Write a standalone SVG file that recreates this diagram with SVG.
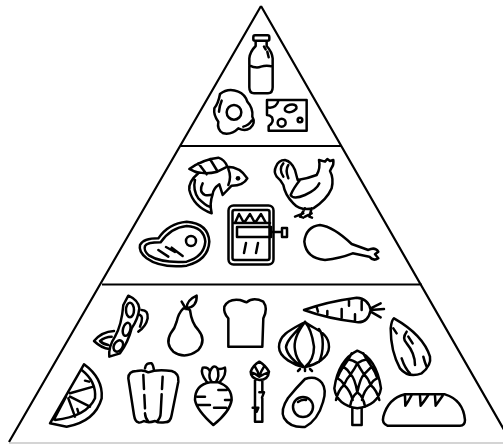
<svg xmlns="http://www.w3.org/2000/svg" width="503" height="444" viewBox="0 0 503 444">
<style>
.i{fill:none;stroke:#000;stroke-width:7.5;stroke-linecap:round;stroke-linejoin:round}
.a{fill:none;stroke:#000;stroke-width:2.5;stroke-linecap:round;stroke-linejoin:round}
.t{fill:none;stroke:#000;stroke-width:2.2}
</style>
<rect width="503" height="444" fill="#fff"/>
<g id="pyramid">
<path class="t" d="M261,6 L9,442 M261,6 L511,442 M181,146 H342 M102,284.5 H422"/>
<path d="M9,443 H503" fill="none" stroke="#aaa" stroke-width="1.2"/>
</g>
<g id="milk" transform="translate(170,0) scale(.3333)"><path class="i" d="M255,106 H293 Q298,106 298,112 V118 Q298,122 293,122 H255 Q250,122 250,118 V112 Q250,106 255,106Z M257,122 V138 Q240,155 238,175 V262 Q238,280 252,280 H294 Q308,280 308,262 V175 Q306,155 290,138 V122 M238,196 Q258,206 273,200 Q290,195 308,200 M282,140 L287,148 M292,155 L296,172"/></g>
<g id="egg" transform="translate(170,0) scale(.3333)"><path class="i" d="M150,282 Q175,262 205,275 Q225,283 232,305 Q250,325 247,350 Q258,370 240,385 Q225,395 205,385 Q185,405 160,400 Q140,390 145,365 Q130,345 133,325 Q145,310 150,282Z M155,302 Q148,318 147,335 M245,362 Q236,376 220,380"/><circle class="i" cx="192" cy="337" r="22"/></g>
<g id="cheese" transform="translate(170,0) scale(.3333)"><path class="i" d="M291,300 H410 V392 H296 V378 Q313,368 306,352 Q300,345 291,345Z M291,322 Q318,328 326,300"/><ellipse class="i" cx="362" cy="325" rx="18" ry="11" transform="rotate(-15 362 325)"/><circle class="i" cx="335" cy="368" r="12"/><circle class="i" cx="390" cy="360" r="7"/></g>
<g id="fish" transform="translate(130,145) scale(.3333)"><path class="i" d="M178,72 Q220,42 265,38 Q285,45 292,65 Q330,65 352,100 Q340,122 305,122 L278,150 L268,118 Q250,130 248,148 Q238,175 245,205 Q190,185 178,135 Q175,110 205,85Z M178,72 Q215,92 262,80 L292,65 M205,55 L230,88 M240,42 L262,78 M195,105 Q188,135 205,160 Q225,180 238,185 M218,115 Q205,140 225,150 Q238,152 248,148 M295,72 Q305,95 295,120"/><circle cx="324" cy="100" r="7"/></g>
<g id="steak" transform="translate(130,145) scale(.3333)"><path class="i" d="M30,300 Q40,280 85,280 Q115,235 170,230 Q235,235 238,290 Q235,345 170,362 Q90,370 50,340 Q25,320 30,300Z M45,303 Q50,292 92,292 Q122,248 170,243 Q222,246 226,290 Q222,335 170,350 Q95,355 58,332 Q40,318 45,303Z M85,315 L115,335 M108,306 L135,321 M125,308 L158,333"/><circle class="i" cx="183" cy="288" r="15"/></g>
<g id="can"><rect class="a" x="228.500" y="205.500" width="45" height="59" rx="5"/><rect class="a" x="232.500" y="210" width="37" height="50" rx="2"/><path class="a" d="M235,223 L239,214 L244,223 L250,214 L255,223 L261,214 L266,223 M234,223 H270 M237,227 H271 V237 H237Z M271,232 H281 M282,228 H287 V237 H282Z M246,243 L244,253 M258,243 L256,253"/></g>
<g id="chicken" transform="translate(250,145) scale(.3333)"><path class="i" d="M80,95 Q70,80 78,65 Q85,45 105,45 Q125,50 135,75 L143,105 Q175,100 200,90 Q212,70 207,45 L225,50 L232,42 L240,48 L250,45 Q252,60 245,68 L240,78 Q252,100 245,130 Q230,165 190,190 Q150,198 130,175 Q105,150 100,120 Q92,105 80,95Z M100,55 Q85,72 100,95 M115,60 Q105,75 115,100 M150,105 Q130,130 122,150 Q130,165 165,150 Q200,135 208,115 M165,190 L150,215 M185,190 L178,215 M135,215 L160,205 M150,215 L160,218 M165,215 L185,205 M178,215 L186,218"/></g>
<g id="drumstick" transform="translate(250,145) scale(.3333)"><path class="i" d="M163,290 Q168,245 210,240 Q250,245 305,297 L355,315 Q375,305 385,320 L375,328 L385,340 Q370,350 358,335 L308,325 Q270,340 225,345 Q168,340 163,290Z"/></g>
<g id="bean" transform="translate(40,285) scale(.3333)"><path class="i" d="M265,32 Q295,45 298,70 Q295,100 275,130 Q265,170 240,205 L208,215 Q205,185 225,155 Q245,120 250,60Z M305,75 Q325,75 323,100 Q318,125 295,140 M300,90 Q312,95 300,125 M222,138 Q185,140 162,168 Q185,190 208,192 M215,155 Q195,155 180,168 Q190,178 205,180"/><ellipse class="i" cx="270" cy="75" rx="12" ry="22"/><ellipse class="i" cx="260" cy="133" rx="11" ry="20" transform="rotate(15 260 133)"/><ellipse class="i" cx="235" cy="183" rx="13" ry="18" transform="rotate(30 235 183)"/></g>
<g id="pear" transform="translate(40,285) scale(.3333)"><path class="i" d="M430,70 Q415,85 410,110 Q405,130 392,145 Q375,175 400,200 Q435,225 475,195 Q500,165 475,135 Q455,115 450,75 Q440,70 430,70Z M425,50 L438,72 M440,70 Q440,45 470,32 Q472,65 440,70Z"/></g>
<g id="citrus" transform="translate(40,285) scale(.3333)"><path class="i" d="M132,238 Q190,280 185,340 Q165,410 80,425 L30,415Z M125,255 Q170,290 165,340 Q140,395 45,405 M90,325 L160,305 M90,335 L150,365 M85,340 L105,395 M78,335 L42,403 M135,287 L147,290 M112,372 L115,382"/></g>
<g id="pepper" transform="translate(40,285) scale(.3333)"><path class="i" d="M315,250 Q318,232 335,235 Q340,240 342,257 M265,280 Q265,258 290,258 Q310,253 325,262 Q350,252 395,258 Q418,265 415,290 L395,390 Q392,412 375,412 Q355,415 345,408 Q325,415 312,408 Q300,415 295,412 Q285,410 282,390Z M310,270 L312,312 M313,330 L315,370 M315,385 Q316,400 325,410 M368,275 L366,312 M365,328 L362,385 Q362,400 350,410"/></g>
<g id="bread" transform="translate(190,285) scale(.3333)"><path class="i" d="M115,185 L115,100 Q100,85 103,65 Q115,40 150,45 Q165,50 170,52 Q190,35 220,50 Q235,70 220,100 L217,185Z"/></g>
<g id="carrot" transform="translate(300,285) scale(.3333)"><path class="i" d="M12,75 Q80,50 170,38 Q205,40 212,75 Q205,112 175,112 Q80,100 12,75Z M147,45 V62 M185,48 V75 M125,72 V98 M165,88 V108 M82,78 V90 M50,66 L54,80 M212,70 L242,55 M212,75 L252,72 M212,80 L242,97"/></g>
<g id="onion"><path class="a" d="M305,322 C290,330 279,335 279,347 C279,358 295,365 303,367 M305,322 C315,330 329,332 329,347 C329,358 315,365 305,367 M305,322 C295,333 287,340 286,347 C287,355 295,362 300,365 M305,322 C295,335 294,345 295,350 C296,358 300,363 303,366 M305,322 C312,330 313,340 314,347 C314,357 310,363 305,367 M319,329 C324,335 324,352 319,362 M300,369 L298,371 M305,367 V371 M310,369 L312,371"/></g>
<g id="almond" transform="translate(300,285) scale(.3333)"><path class="i" d="M282,100 Q275,105 272,130 Q272,200 300,250 Q325,280 365,265 Q395,240 390,215 Q370,150 282,100Z M280,130 L290,145 M320,140 Q305,160 320,175 Q345,205 345,240 M325,155 L338,175 M305,220 Q315,250 330,265 M370,215 Q375,235 380,245"/></g>
<g id="turnip" transform="translate(190,285) scale(.3333)"><path class="i" d="M70,420 Q20,375 15,345 Q15,300 60,292 L85,292 Q125,305 125,345 Q120,380 70,420Z M85,315 H110 M22,335 H45 M105,345 H125 M20,360 H60 M72,368 H108 M50,290 Q30,265 38,248 Q55,245 60,260 Q70,235 82,250 Q90,255 105,248 Q110,270 90,290 M60,260 Q55,280 65,290 M82,250 Q90,275 78,290"/></g>
<g id="asparagus" transform="translate(190,285) scale(.3333)"><path class="i" d="M195,410 V285 M217,320 V285 M217,340 V410 M195,410 H217 M208,230 Q225,240 237,260 Q235,285 208,285 Q182,280 182,260 Q190,240 208,230Z M195,245 Q205,260 208,275 Q212,260 222,245 M183,262 Q195,265 208,275 Q225,265 235,262 M208,322 H222 L216,338 M188,368 H205 L200,380"/></g>
<g id="avocado"><path class="a" d="M322,383 Q316,375 305,379 Q296,388 288,398 Q280,410 284,418 Q290,428 305,427 Q318,420 323,402 Q327,390 322,383Z M298,402 Q302,399 306,400"/><circle class="a" cx="303" cy="407" r="10"/></g>
<g id="artichoke" transform="translate(300,285) scale(.3333)"><path class="i" d="M172,197 Q230,220 243,310 Q235,360 172,370 Q110,360 103,310 Q115,225 172,197Z M157,370 V420 H185 V370 M150,365 Q155,335 172,322 Q190,335 195,365 M108,345 Q115,315 132,300 Q150,315 158,345 M238,345 Q230,315 212,300 Q192,315 186,345 M132,300 Q140,280 152,268 Q165,280 172,322 Q180,280 192,268 Q205,280 212,300 M112,280 Q120,260 130,245 Q145,255 152,268 Q165,250 172,235 Q180,250 192,268 Q205,255 215,245 Q225,260 232,280 M130,245 Q145,225 155,205 M215,245 Q200,225 190,205 M172,235 Q160,225 140,222 M172,235 Q185,225 205,222 M112,280 Q125,285 132,300 M232,280 Q218,285 212,300"/></g>
<g id="loaf" transform="translate(300,285) scale(.3333)"><path class="i" d="M262,422 Q245,415 250,395 Q265,340 315,328 L435,328 Q490,345 495,405 Q495,422 480,422Z M315,333 L316,362 Q325,350 335,330 M360,333 L362,362 Q372,350 385,330 M405,333 L407,362 Q415,350 428,332"/></g>
</svg>
